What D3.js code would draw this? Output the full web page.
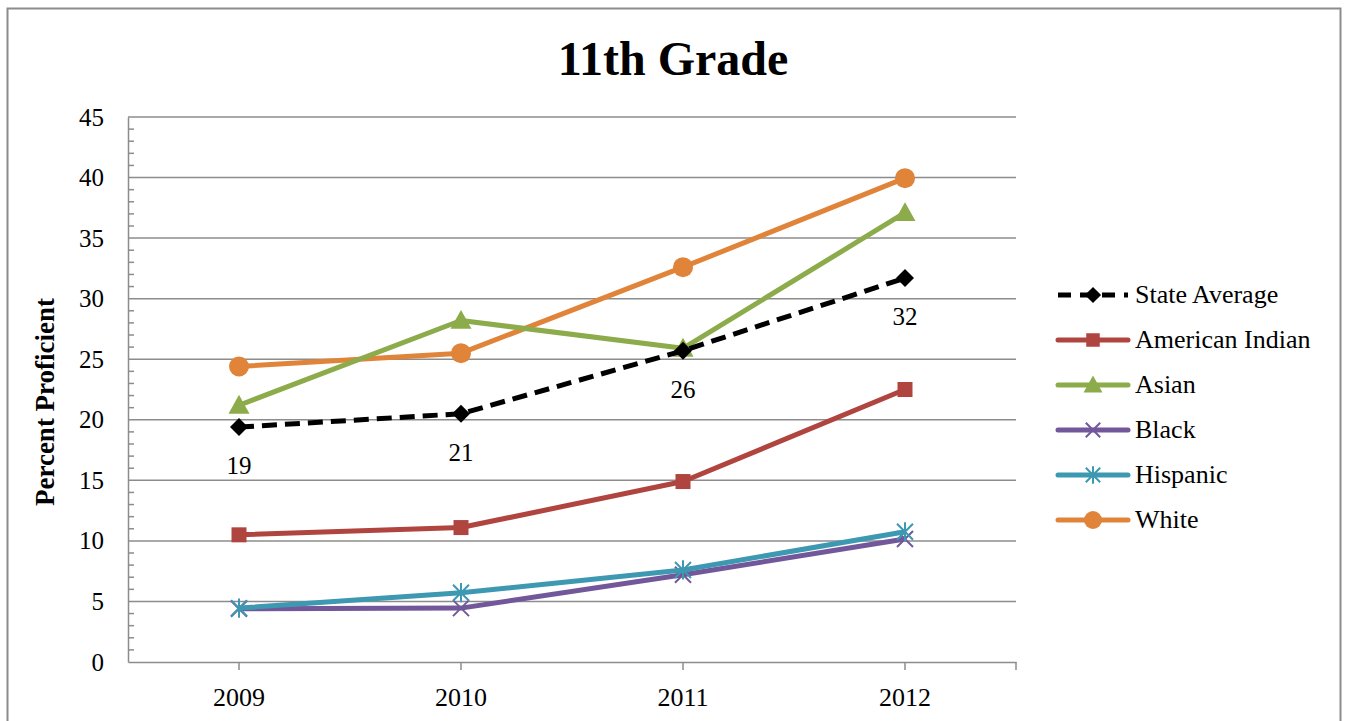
<!DOCTYPE html>
<html>
<head>
<meta charset="utf-8">
<script src="https://cdn.jsdelivr.net/npm/d3@7"></script>
<style>
  body { margin: 0; background: #fff; }
  svg { font-family: "Liberation Serif", "Times New Roman", serif; }
</style>
</head>
<body>
<svg id="chart" width="1346" height="721"></svg>
<script>
var years = ["2009", "2010", "2011", "2012"]
var seriesNames = ["State Average", "American Indian", "Asian", "Black", "Hispanic", "White"]
var stateAvg = [19.4, 20.5, 25.7, 31.7]
var americanIndian = [10.5, 11.1, 14.9, 22.5]
var asian = [21.2, 28.2, 25.9, 37.1]
var black = [4.4, 4.45, 7.2, 10.15]
var hispanic = [4.45, 5.72, 7.6, 10.75]
var white = [24.4, 25.5, 32.6, 39.95]
var stateLabels = ["19", "21", "26", "32"]
var yTicks = [0, 5, 10, 15, 20, 25, 30, 35, 40, 45]

var colors = ["#000000", "#b0443f", "#8cab4a", "#72579a", "#3d98b1", "#e0843a"]
var symbols = ["diamond", "square", "triangle", "x", "asterisk", "circle"]
var allValues = [stateAvg, americanIndian, asian, black, hispanic, white]

var svg = d3.select("#chart")
var plotLeft = 128, plotRight = 1016, plotTop = 117, plotBottom = 662

// outer frame
svg.append("rect").attr("x", 7.5).attr("y", 8.5).attr("width", 1333).attr("height", 730)
    .attr("fill", "none").attr("stroke", "#8c8c8c").attr("stroke-width", 2)

var x = d3.scaleBand().domain(years).range([plotLeft, plotRight])
var y = d3.scaleLinear().domain([0, 45]).range([plotBottom, plotTop])

// gridlines
svg.append("g").selectAll("line").data(yTicks.slice(1)).join("line")
    .attr("x1", plotLeft).attr("x2", plotRight)
    .attr("y1", d => y(d)).attr("y2", d => y(d))
    .attr("stroke", "#8c8c8c").attr("stroke-width", 1.5)

// minor ticks on y axis
svg.append("g").selectAll("line").data(d3.range(0, 46).filter(d => d % 5 != 0)).join("line")
    .attr("x1", plotLeft).attr("x2", plotLeft + 6)
    .attr("y1", d => y(d)).attr("y2", d => y(d))
    .attr("stroke", "#8c8c8c").attr("stroke-width", 1.5)

// y axis
var yAxis = svg.append("g").attr("transform", "translate(" + plotLeft + ",0)")
    .call(d3.axisLeft(y).tickValues(yTicks).tickSize(0).tickPadding(24))
yAxis.select(".domain").attr("stroke", "#8c8c8c").attr("stroke-width", 1.5)
yAxis.selectAll("text").attr("font-size", 25).attr("fill", "#000")
    .attr("font-family", "Liberation Serif, Times New Roman, serif")

// x axis
var xAxis = svg.append("g").attr("transform", "translate(0," + plotBottom + ")")
    .call(d3.axisBottom(x).tickSizeInner(8).tickSizeOuter(0).tickPadding(18))
xAxis.select(".domain").attr("stroke", "#8c8c8c").attr("stroke-width", 1.5)
xAxis.selectAll(".tick line").attr("stroke", "#8c8c8c").attr("stroke-width", 1.5)
xAxis.selectAll("text").attr("font-size", 26).attr("fill", "#000")
    .attr("font-family", "Liberation Serif, Times New Roman, serif")
svg.append("line").attr("x1", plotRight).attr("x2", plotRight).attr("y1", plotBottom).attr("y2", plotBottom + 8)
    .attr("stroke", "#8c8c8c").attr("stroke-width", 1.5)

function cx(i) { return x(years[i]) + x.bandwidth() / 2 }

function drawMarker(g, type, color, px, py, scale) {
    scale = scale || 1
    if (type == "diamond") {
        var s = 9 * scale
        g.append("path").attr("d", "M" + px + "," + (py - s) + "L" + (px + s) + "," + py + "L" + px + "," + (py + s) + "L" + (px - s) + "," + py + "Z")
            .attr("fill", color)
    } else if (type == "square") {
        var s = 7.5 * scale
        g.append("rect").attr("x", px - s).attr("y", py - s).attr("width", 2 * s).attr("height", 2 * s).attr("fill", color)
    } else if (type == "triangle") {
        var s = 10.5 * scale
        g.append("path").attr("d", "M" + px + "," + (py - s) + "L" + (px + s) + "," + (py + s * 0.8) + "L" + (px - s) + "," + (py + s * 0.8) + "Z")
            .attr("fill", color)
    } else if (type == "x") {
        var s = 8 * scale
        g.append("path").attr("d", "M" + (px - s) + "," + (py - s) + "L" + (px + s) + "," + (py + s) + "M" + (px + s) + "," + (py - s) + "L" + (px - s) + "," + (py + s))
            .attr("stroke", color).attr("stroke-width", 2)
    } else if (type == "asterisk") {
        var s = 8 * scale
        g.append("path").attr("d", "M" + (px - s) + "," + (py - s) + "L" + (px + s) + "," + (py + s) + "M" + (px + s) + "," + (py - s) + "L" + (px - s) + "," + (py + s) + "M" + px + "," + (py - s * 1.2) + "L" + px + "," + (py + s * 1.2))
            .attr("stroke", color).attr("stroke-width", 2)
    } else if (type == "circle") {
        g.append("circle").attr("cx", px).attr("cy", py).attr("r", 10 * scale).attr("fill", color)
    }
}

var line = d3.line().x((d, i) => cx(i)).y(d => y(d))

var drawOrder = [1, 3, 4, 5, 2, 0]
drawOrder.forEach(function(k) {
    var g = svg.append("g")
    g.append("path").datum(allValues[k]).attr("d", line)
        .attr("fill", "none").attr("stroke", colors[k]).attr("stroke-width", 5)
        .attr("stroke-dasharray", k == 0 ? "15,8" : null)
        .attr("stroke-linejoin", "round")
    allValues[k].forEach(function(v, i) {
        drawMarker(g, symbols[k], colors[k], cx(i), y(v))
    })
})

// data labels for state average
svg.append("g").selectAll("text").data(stateAvg).join("text")
    .attr("x", (d, i) => cx(i)).attr("y", d => y(d) + 47)
    .attr("text-anchor", "middle").attr("font-size", 25)
    .text((d, i) => stateLabels[i])

// legend
var legend = svg.append("g")
seriesNames.forEach(function(name, k) {
    var ly = 295 + k * 45
    legend.append("line").attr("x1", 1058).attr("x2", 1128).attr("y1", ly).attr("y2", ly)
        .attr("stroke", colors[k]).attr("stroke-width", 5).attr("stroke-linecap", k == 0 ? "butt" : "round")
        .attr("stroke-dasharray", k == 0 ? "13,9" : null)
    drawMarker(legend, symbols[k], colors[k], 1093, ly, 0.9)
    legend.append("text").attr("x", 1135).attr("y", ly + 8).attr("font-size", 26).text(name)
})

// title
svg.append("text").attr("x", 673).attr("y", 75).attr("text-anchor", "middle")
    .attr("font-size", 48).attr("font-weight", "bold").text("11th Grade")

// y label
svg.append("text").attr("transform", "translate(54,402) rotate(-90)")
    .attr("text-anchor", "middle").attr("font-size", 27).attr("font-weight", "bold")
    .text("Percent Proficient")
</script>
</body>
</html>
